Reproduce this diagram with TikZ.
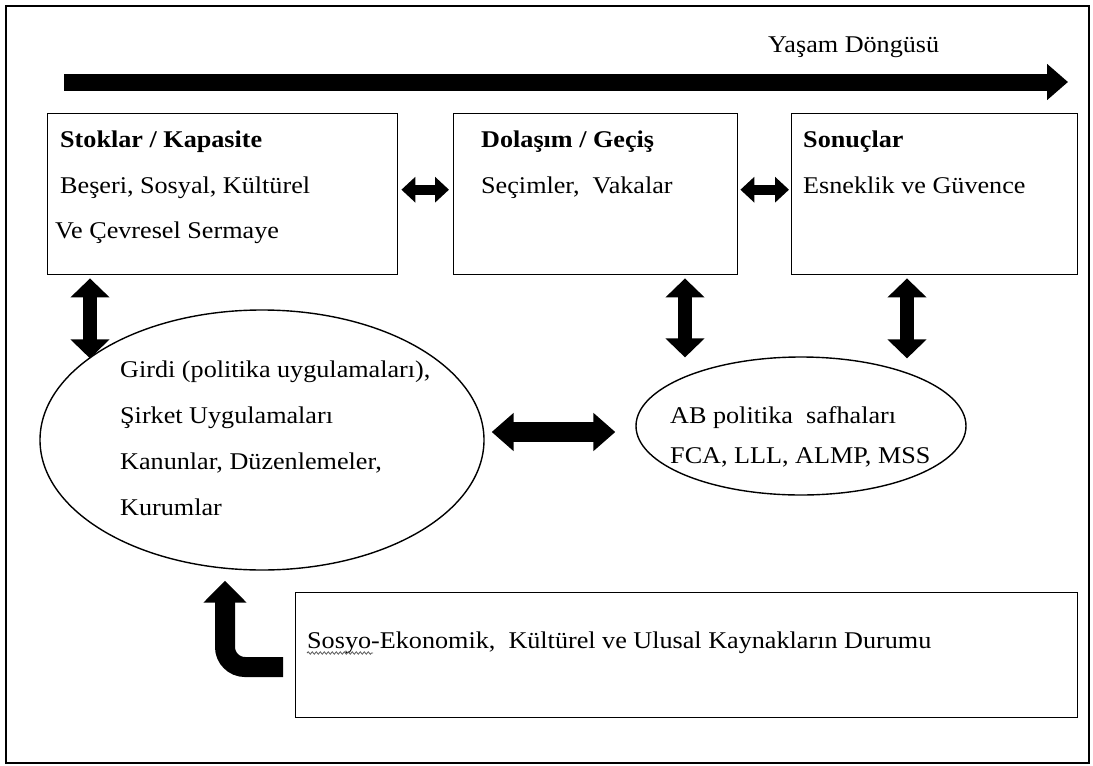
\documentclass[tikz,border=0pt]{standalone}
\usepackage{fontspec}
\setmainfont{Liberation Serif}[FakeStretch=1.09]
\usetikzlibrary{arrows.meta,shapes.geometric,decorations.pathmorphing}
\begin{document}
\begin{tikzpicture}[x=1pt,y=-1pt,
  frame/.style={draw, line width=2pt},
  box/.style={draw, line width=1.4pt, inner sep=0pt, anchor=north west},
  oval/.style={draw, ellipse, line width=1.4pt, inner sep=0pt},
  txt/.style={anchor=base west, inner sep=0pt, font=\fontsize{24}{28}\selectfont},
  hd/.style={anchor=base west, inner sep=0pt, font=\fontsize{24}{28}\selectfont\bfseries},
  smallarr/.style={line width=10pt, {Triangle[width=25pt,length=14pt]}-{Triangle[width=25pt,length=14pt]}},
  vertarr/.style={line width=14pt, {Triangle[width=38pt,length=19pt]}-{Triangle[width=38pt,length=19pt]}},
  ovalarr/.style={line width=20pt, {Triangle[width=37pt,length=22pt]}-{Triangle[width=37pt,length=22pt]}},
  toparr/.style={line width=17pt, -{Triangle[width=35pt,length=21pt]}},
  bentarr/.style={line width=20pt, rounded corners=20pt, -{Triangle[width=42pt,length=22pt]}},
  wavy/.style={draw=black!65, line width=0.8pt, decorate, decoration={snake, amplitude=1.2pt, segment length=4pt}}]
\useasboundingbox (0,0) rectangle (1093,766);
\node[frame, inner sep=0pt, anchor=north west, minimum width=1083pt, minimum height=757pt] (fr) at (5,5) {};

% life cycle arrow
\coordinate (ls) at (64,82);
\coordinate (le) at (1068,82);
\draw[toparr] (ls) -- (le);
\node[txt] (yd) at (768,52) {Yaşam Döngüsü};

% boxes
\node[box, minimum width=350pt, minimum height=161pt] (b1) at (47,113) {};
\node[box, minimum width=284pt, minimum height=161pt] (b2) at (453,113) {};
\node[box, minimum width=286pt, minimum height=161pt] (b3) at (791,113) {};
\node[box, minimum width=782pt, minimum height=125pt] (b4) at (295,592) {};

\node[hd]  (t11) at (60,147) {Stoklar / Kapasite};
\node[txt] (t12) at (60,193) {Beşeri, Sosyal, Kültürel};
\node[txt] (t13) at (55,238) {Ve Çevresel Sermaye};

\node[hd]  (t21) at (481,147) {Dolaşım / Geçiş};
\node[txt] (t22) at (481,193) {Seçimler,\ \ Vakalar};

\node[hd]  (t31) at (803,147) {Sonuçlar};
\node[txt] (t32) at (803,193) {Esneklik ve Güvence};

% ovals
\node[oval, minimum width=444pt, minimum height=260pt] (e1) at (262,440) {};
\node[oval, minimum width=330pt, minimum height=138pt] (e2) at (801,426) {};

\node[txt] (t41) at (120,377) {Girdi (politika uygulamaları),};
\node[txt] (t42) at (120,423) {Şirket Uygulamaları};
\node[txt] (t43) at (120,469) {Kanunlar, Düzenlemeler,};
\node[txt] (t44) at (120,515) {Kurumlar};

\node[txt] (t51) at (670,423) {AB politika\ \ safhaları};
\node[txt] (t52) at (670,463) {FCA, LLL, ALMP, MSS};

\node[txt] (t61) at (307,648) {Sosyo-Ekonomik,\ \ Kültürel ve Ulusal Kaynakların Durumu};
\draw[wavy] ([yshift=-5pt]t61.base west) -- ++(66,0);

% connectors
\draw[smallarr] ([xshift=3pt,yshift=4.5pt]b1.east) -- ([xshift=-4pt,yshift=4.5pt]b2.west);
\draw[smallarr] ([xshift=2pt,yshift=4.5pt]b2.east) -- ([xshift=-2pt,yshift=4.5pt]b3.west);

\draw[vertarr] ([xshift=43pt,yshift=-3pt]b1.south west) -- ([xshift=43pt,yshift=-83pt]b1.south west);
\draw[vertarr] ([xshift=232pt,yshift=-3pt]b2.south west) -- ([xshift=232pt,yshift=-82pt]b2.south west);
\draw[vertarr] ([xshift=116pt,yshift=-3pt]b3.south west) -- ([xshift=116pt,yshift=-83pt]b3.south west);

\draw[ovalarr] ([xshift=7pt,yshift=-6pt]e1.east |- e2.west) -- ([xshift=-20pt,yshift=-6pt]e2.west);

\coordinate (bc) at (225,667);
\draw[bentarr] ([xshift=-12pt]b4.west |- bc) -- (bc) -- ([yshift=-10pt]e1.south -| bc);
\end{tikzpicture}
\end{document}
